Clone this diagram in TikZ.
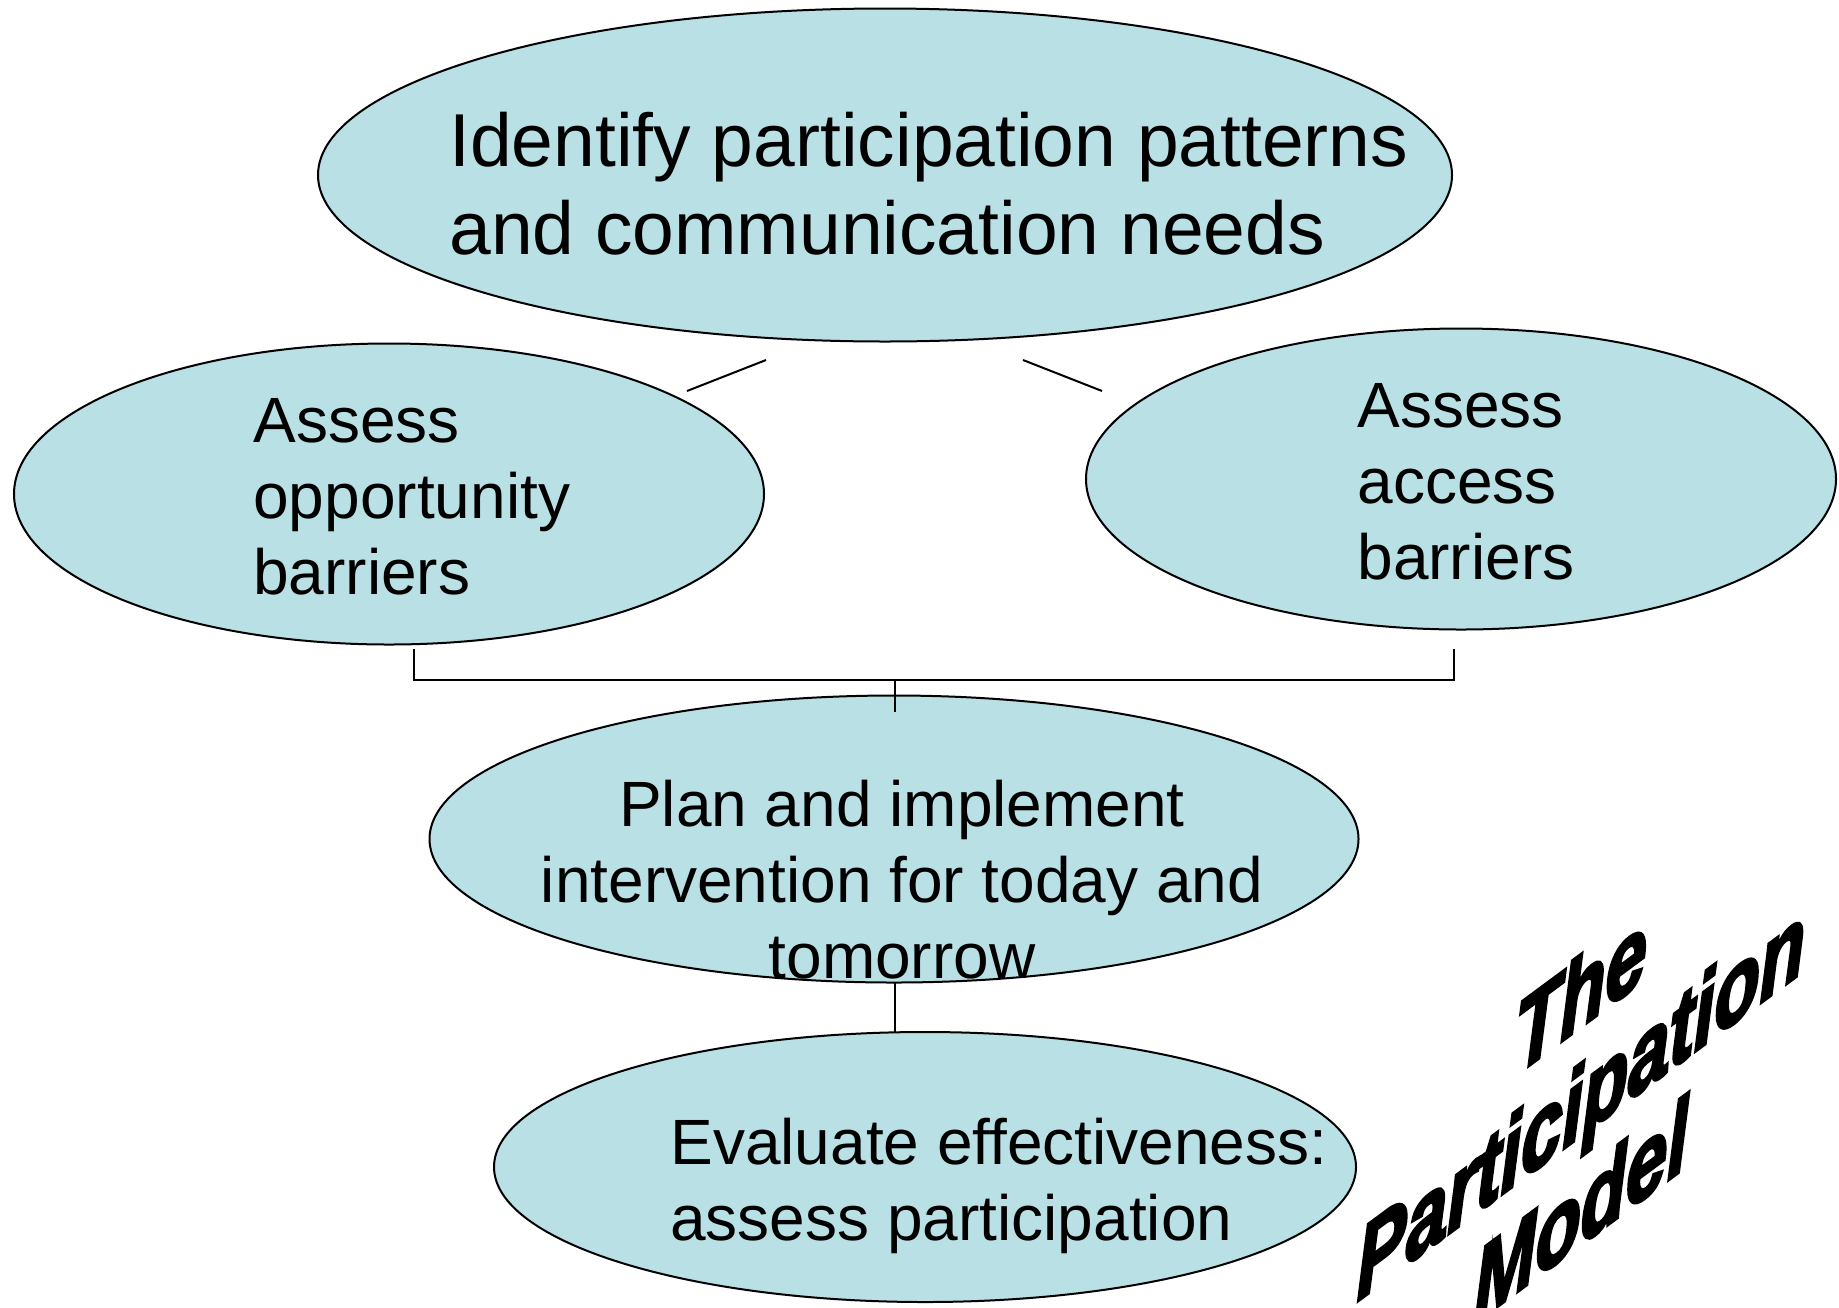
\documentclass[tikz,border=0pt]{standalone}
\usepackage{fontspec}
\setmainfont{Liberation Sans}
\newfontfamily\wordart[BoldItalicFeatures={FakeBold=3.5}]{Liberation Sans}
\usetikzlibrary{shapes.geometric}
\definecolor{bubble}{RGB}{185,224,228}
\begin{document}
\begin{tikzpicture}[x=0.5pt,y=-0.5pt,
  bub/.style={ellipse, draw=black, line width=1pt, fill=bubble, inner sep=0pt},
  lbl/.style={inner sep=0pt, align=left, font=\fontsize{32}{38}\selectfont},
  biglbl/.style={inner sep=0pt, align=left, font=\fontsize{37.5}{44}\selectfont},
  link/.style={draw=black, line width=1pt},
  wa/.style={inner sep=0pt, align=center, transform shape,
    font=\wordart\bfseries\itshape\fontsize{37}{40}\selectfont}]
\useasboundingbox[fill=white] (0,0) rectangle (1839,1307);

% ellipses
\node[bub, minimum width=1134*0.5pt, minimum height=333*0.5pt] (top) at (885,175) {};
\node[bub, minimum width=750*0.5pt, minimum height=301*0.5pt] (opp) at (389,494) {};
\node[bub, minimum width=750*0.5pt, minimum height=301*0.5pt] (acc) at (1461,479) {};
\node[bub, minimum width=929*0.5pt, minimum height=287*0.5pt] (plan) at (894,839) {};
\node[bub, minimum width=862*0.5pt, minimum height=270*0.5pt] (eval) at (925,1167) {};

% texts
\node[biglbl, anchor=west] (toptxt) at (449,184) {Identify participation patterns\\and communication needs};
\node[lbl, anchor=west] (opptxt) at (253,497) {Assess\\opportunity\\barriers};
\node[lbl, anchor=west] (acctxt) at (1357,481.5) {Assess\\access\\barriers};
\node[lbl, align=center] (plantxt) at (902,880) {Plan and implement\\intervention for today and\\tomorrow};
\node[lbl, anchor=west] (evaltxt) at (670,1185.5) {Evaluate effectiveness:\\assess participation};

% connector coordinates
\coordinate (dl1) at (687,391);
\coordinate (dl2) at (766,360);
\coordinate (dr1) at (1023,360);
\coordinate (dr2) at (1102,391);
\coordinate (bl) at (414,649);
\coordinate (br) at (1454,649);
\coordinate (bm) at (895,680);
\coordinate (pt) at (895,712);
\coordinate (pb) at (895,983);
\coordinate (et) at (895,1032);

\draw[link] (dl1) -- (dl2);
\draw[link] (dr1) -- (dr2);
\draw[link] (bl) |- (bm) -| (br);
\draw[link] (bm) -- (pt);
\draw[link] (pb) -- (et);

% title
\begin{scope}[shift={(1581,1100)}, cm={1,0.74,0,1.36,(0,0)}]
\node[wa] (title) at (0,0) {The\\Participation\\Model};
\end{scope}
\end{tikzpicture}
\end{document}
